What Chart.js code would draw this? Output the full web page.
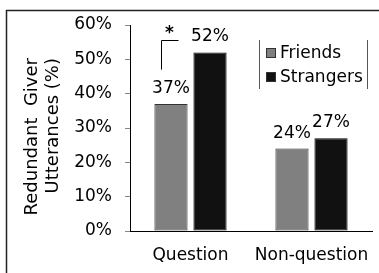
<!DOCTYPE html>
<html lang="en">
<head>
    <meta charset="UTF-8">
    <title>Redundant Giver Utterances</title>
    <script src="https://cdn.jsdelivr.net/npm/chart.js"></script>
    <style>
        body { margin: 0; background: #fff; }
        #wrap { width: 379px; height: 273px; position: relative; }
    </style>
</head>
<body>
    <div id="wrap"><canvas id="chart"></canvas></div>
    <script>
        const categories = ['Question', 'Non-question'];
        const friends = [37, 24];
        const strangers = [52, 27];
        const seriesNames = ['Friends', 'Strangers'];
        const yTitle = ['Redundant  Giver', 'Utterances (%)'];

        const FONT = '"DejaVu Sans", sans-serif';

        // labels above bars, bracket, legend, axis title, frame
        const extras = {
            id: 'extras',
            afterDraw(chart) {
                const ctx = chart.ctx;
                const yScale = chart.scales.y;
                ctx.save();

                // outer frame
                ctx.strokeStyle = '#222';
                ctx.lineWidth = 1.5;
                ctx.strokeRect(6.5, 10.5, 400, 300);

                // value labels
                ctx.fillStyle = '#000';
                ctx.font = '17px ' + FONT;
                ctx.textAlign = 'center';
                ctx.textBaseline = 'bottom';
                chart.data.datasets.forEach((ds, i) => {
                    chart.getDatasetMeta(i).data.forEach((bar, j) => {
                        ctx.fillText(ds.data[j] + '%', bar.x, bar.y - 7);
                    });
                });

                // significance bracket
                const b = chart.getDatasetMeta(0).data[0];
                const bx = Math.round(b.x - 10) + 0.5;
                const top = Math.round(yScale.getPixelForValue(55.5)) + 0.5;
                const bot = yScale.getPixelForValue(47);
                ctx.strokeStyle = '#000';
                ctx.lineWidth = 1;
                ctx.beginPath();
                ctx.moveTo(bx, bot);
                ctx.lineTo(bx, top);
                ctx.lineTo(bx + 17, top);
                ctx.stroke();
                ctx.font = 'bold 17px ' + FONT;
                ctx.textBaseline = 'middle';
                ctx.fillText('*', bx + 8, top - 7);

                // legend
                ctx.beginPath();
                ctx.strokeStyle = '#555';
                ctx.moveTo(259.5, 40);
                ctx.lineTo(259.5, 89);
                ctx.moveTo(367.5, 40);
                ctx.lineTo(367.5, 89);
                ctx.stroke();
                ctx.font = '17px ' + FONT;
                ctx.textAlign = 'left';
                chart.data.datasets.forEach((ds, i) => {
                    const cy = 53 + i * 24;
                    ctx.fillStyle = ds.backgroundColor;
                    ctx.fillRect(266, cy - 5, 10, 10);
                    ctx.strokeStyle = '#333';
                    ctx.strokeRect(266.5, cy - 4.5, 9, 9);
                    ctx.fillStyle = '#000';
                    ctx.fillText(ds.label, 280, cy + 1);
                });

                // y axis title, two lines ending at the same point
                ctx.font = '18px ' + FONT;
                ctx.textAlign = 'right';
                yTitle.forEach((line, i) => {
                    ctx.save();
                    ctx.translate(32 + i * 21, 58);
                    ctx.rotate(-Math.PI / 2);
                    ctx.fillText(line, 0, 0);
                    ctx.restore();
                });

                ctx.restore();
            }
        };

        new Chart(document.getElementById('chart'), {
            type: 'bar',
            data: {
                labels: categories,
                datasets: [{
                    label: seriesNames[0],
                    data: friends,
                    backgroundColor: '#808080',
                    borderColor: '#333',
                    borderWidth: 1,
                    borderSkipped: false
                }, {
                    label: seriesNames[1],
                    data: strangers,
                    backgroundColor: '#111',
                    borderColor: '#000',
                    borderWidth: 1,
                    borderSkipped: false
                }]
            },
            options: {
                responsive: true,
                maintainAspectRatio: false,
                animation: false,
                categoryPercentage: 0.645,
                barPercentage: 0.85,
                layout: { padding: { left: 0, right: 7, top: 25, bottom: 0 } },
                plugins: {
                    legend: { display: false },
                    tooltip: { enabled: false }
                },
                scales: {
                    x: {
                        grid: { display: false },
                        border: { display: true, color: '#000', width: 1 },
                        ticks: { color: '#000', font: { family: FONT, size: 17 }, padding: 6 },
                        afterFit: s => { s.height = 42; }
                    },
                    y: {
                        min: 0,
                        max: 60,
                        grid: { drawOnChartArea: false, tickLength: 5, tickColor: '#888' },
                        border: { display: true, color: '#000', width: 1 },
                        ticks: {
                            stepSize: 10,
                            color: '#000',
                            padding: 13,
                            font: { family: FONT, size: 17 },
                            callback: v => v + '%'
                        },
                        afterFit: s => { s.width = 130; }
                    }
                }
            },
            plugins: [extras]
        });
    </script>
</body>
</html>
